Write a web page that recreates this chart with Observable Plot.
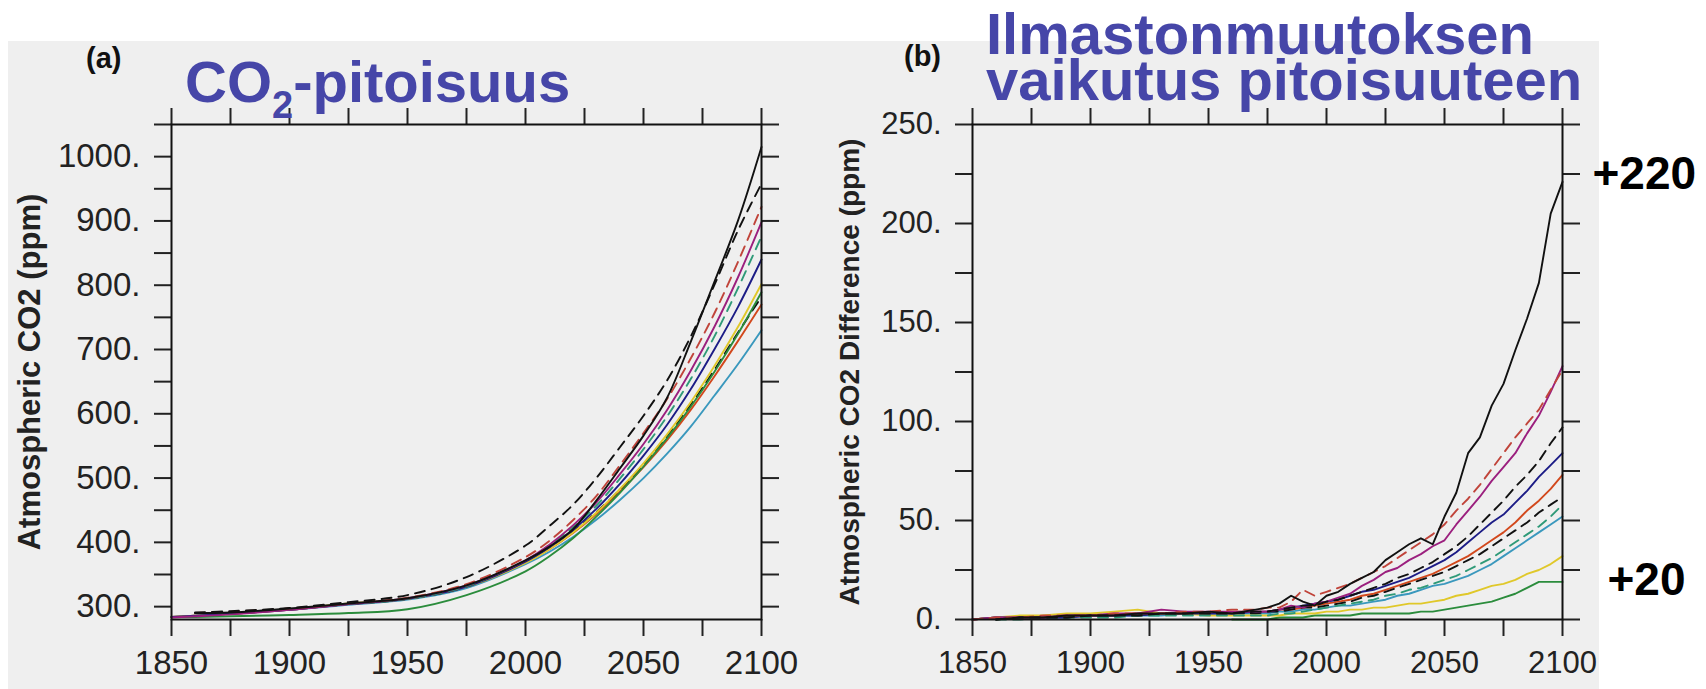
<!DOCTYPE html>
<html><head><meta charset="utf-8">
<script src="https://cdn.jsdelivr.net/npm/d3@7"></script>
<script src="https://cdn.jsdelivr.net/npm/@observablehq/plot@0.6"></script>
<style>
html,body{margin:0;padding:0;background:#fff;}
#wrap{position:relative;width:1706px;height:689px;overflow:hidden;font-family:"Liberation Sans",Arial,Helvetica,sans-serif;}
#bg{position:absolute;left:8px;top:41px;width:1591px;height:648px;background:#efefef;}
.pl{position:absolute;top:0;}
.pl svg{display:block;}
.t{position:absolute;font-weight:bold;color:#4646a8;font-size:58px;line-height:46px;white-space:nowrap;}
.p{position:absolute;font-weight:bold;color:#111;font-size:29px;line-height:29px;}
</style></head><body>
<div id="wrap">
  <div id="bg"></div>
  <div id="plotA" class="pl" style="left:0px"></div>
  <div id="plotB" class="pl" style="left:800px"></div>
  <div id="plotC" class="pl" style="left:800px"></div>
  <div class="p" style="left:86px;top:44px">(a)</div>
  <div class="p" style="left:904px;top:42px">(b)</div>
  <div class="t" style="left:185px;top:59px">CO<span style="font-size:38px;position:relative;top:16px">2</span>-pitoisuus</div>
  <div class="t" style="left:986px;top:5px;line-height:58px">Ilmastonmuutoksen</div>
  <div class="t" style="left:986px;top:57px">vaikutus pitoisuuteen</div>
</div>
<script>
// ---------- Panel (a): atmospheric CO2 (ppm) ----------
const yearsA = [1850,1860,1875,1900,1925,1950,1975,2000,2010,2020,2030,2040,2050,2060,2070,2080,2090,2100];
const concA_m1  = [null,290,291,297,305,313,333,372,393,420,465,515,566,625,712,805,900,1015];
const concA_m2  = [null,291,293,298,307,318,346,395,425,458,500,548,597,652,720,800,885,958];
const concA_m3  = [null,290,292,297,305,314,335,377,402,434,472,520,570,623,686,756,836,922];
const concA_m4  = [283,285,288,295,304,313,333,372,396,426,462,506,553,606,667,735,812,898];
const concA_m5  = [null,290,291,296,304,312,332,372,395,423,457,499,545,596,654,720,795,876];
const concA_m6  = [284,286,289,295,304,312,331,370,392,419,452,491,535,583,638,700,766,840];
const concA_m7  = [284,286,289,296,305,312,331,368,389,415,446,483,523,568,618,674,735,802];
const concA_m8  = [284,284,285,287,290,296,318,355,378,406,440,477,518,562,611,665,724,789];
const concA_m9  = [null,290,291,296,304,312,331,369,390,416,447,482,521,565,614,668,726,782];
const concA_m10 = [284,286,289,295,304,312,331,369,389,414,444,479,517,559,606,658,713,770];
const concA_m11 = [284,286,289,295,303,311,329,366,385,408,435,466,500,538,580,628,677,730];

// ---------- Panel (b): CO2 difference (ppm) ----------
const yearsB = [1850,1860,1870,1880,1890,1900,1910,1920,1930,1940,1950,1960,1970,
  1975,1980,1985,1990,1995,2000,2005,2010,2015,2020,2025,2030,2035,2040,2045,2050,2055,2060,2065,2070,2075,2080,2085,2090,2095,2100];
const diffB_m1  = [null,0,1,1,2,2,2,3,3,3,4,3,5, 6,8,12,9,7,12,14,18,21,24,30,34,38,41,38,52,64,84,92,108,119,136,152,170,205,221];
const diffB_m2  = [null,0,1,1,1,2,2,2,3,3,3,3,4, 4,5,6,7,7,9,10,12,14,16,18,21,23,26,29,33,37,42,48,54,60,67,73,80,89,97];
const diffB_m3  = [0,1,1,2,2,2,3,3,3,4,4,5,5, 6,6,9,15,12,14,16,18,21,24,27,31,35,39,43,48,55,61,68,76,84,92,99,106,116,126];
const diffB_m4  = [0,1,1,1,2,2,3,3,5,4,4,4,4, 4,5,7,6,8,9,11,13,17,20,24,26,30,33,37,40,48,55,62,70,77,84,94,103,115,128];
const diffB_m5  = [null,0,0,1,1,1,1,2,2,2,2,2,2, 2,3,3,4,5,6,7,8,9,10,12,13,15,16,18,20,22,25,28,31,35,39,43,47,52,58];
const diffB_m6  = [0,1,1,1,1,2,2,2,3,3,3,3,4, 4,5,6,7,8,9,10,12,14,15,17,19,21,24,27,30,34,39,44,49,53,59,65,72,78,84];
const diffB_m7  = [0,1,2,2,3,3,4,5,3,3,2,2,2, 2,2,3,3,3,4,4,5,5,6,6,7,8,8,9,10,12,13,15,17,18,20,23,25,28,32];
const diffB_m8  = [null,null,null,null,null,null,null,null,null,null,null,0,0, 0,1,1,1,2,2,2,2,3,3,3,3,3,4,4,5,6,7,8,9,11,13,16,19,19,19];
const diffB_m9  = [null,0,1,1,1,2,2,2,3,3,3,3,3, 4,4,5,6,6,7,8,9,11,12,14,16,18,20,22,24,27,30,33,37,41,45,49,54,58,62];
const diffB_m10 = [0,1,1,1,2,2,2,3,3,3,3,4,4, 4,5,5,6,7,8,9,10,12,13,15,17,19,21,23,26,29,32,36,40,44,49,55,60,66,73];
const diffB_m11 = [0,1,1,1,1,2,2,2,2,3,3,3,3, 3,4,4,5,5,6,7,7,8,9,10,12,13,15,17,18,20,22,25,28,32,36,40,44,48,52];

// ---------- axes ----------
const xTicks = [1850,1875,1900,1925,1950,1975,2000,2025,2050,2075,2100];
const yTicksA = [300,350,400,450,500,550,600,650,700,750,800,850,900,950,1000,1050];
const yTicksB = [0,25,50,75,100,125,150,175,200,225,250];
const titleA = "Atmospheric CO2 (ppm)";
const titleB = "Atmospheric CO2 Difference (ppm)";
const annoValues = [220, 20];
const annoLabels = ["+220", "+20"];

// ---------- series styles ----------
const seriesKeys = ["m1","m2","m3","m4","m5","m6","m7","m8","m9","m10","m11"];
const seriesColors = ["#111111","#111111","#c0443a","#9b1f7e","#2f9a78","#1c1c86","#e0c82a","#2b8c3c","#111111","#d2481c","#3a98bd"];
const seriesDash = [null,"10,7","10,7",null,"10,7",null,null,null,"10,7",null,null];

const concA = [concA_m1,concA_m2,concA_m3,concA_m4,concA_m5,concA_m6,concA_m7,concA_m8,concA_m9,concA_m10,concA_m11];
const diffB = [diffB_m1,diffB_m2,diffB_m3,diffB_m4,diffB_m5,diffB_m6,diffB_m7,diffB_m8,diffB_m9,diffB_m10,diffB_m11];

function rows(years, vals, key) {
  return years.map((y, i) => ({year: y, value: vals[i], model: key})).filter(d => d.value != null);
}

const font = '"Liberation Sans", Arial, Helvetica, sans-serif';

function lineMarks(arrs, years, curve) {
  const marks = [];
  for (let i = arrs.length - 1; i >= 0; i--) {
    const o = {x: "year", y: "value", stroke: seriesColors[i], strokeWidth: 1.9, curve};
    if (seriesDash[i]) o.strokeDasharray = seriesDash[i];
    marks.push(Plot.line(rows(years, arrs[i], seriesKeys[i]), o));
  }
  return marks;
}

function axes(yTicks, yFmt, fs) {
  return [
    Plot.axisY({ticks: yTicks, anchor: "left", tickSize: 17, tickPadding: 14, tickFormat: yFmt, fontSize: fs, strokeWidth: 2, label: null}),
    Plot.axisY({ticks: yTicks, anchor: "right", tickSize: 17, tickFormat: () => "", strokeWidth: 2, label: null}),
    Plot.axisX({ticks: xTicks, anchor: "bottom", tickSize: 17, tickPadding: 14, tickFormat: d => d % 50 === 0 ? String(d) : "", fontSize: fs, strokeWidth: 2, label: null}),
    Plot.axisX({ticks: xTicks, anchor: "top", tickSize: 17, tickFormat: () => "", strokeWidth: 2, label: null}),
    Plot.frame({stroke: "#111", strokeWidth: 2})
  ];
}

const plotA = Plot.plot({
  width: 800, height: 689,
  marginLeft: 171, marginRight: 39, marginTop: 124, marginBottom: 70,
  x: {domain: [1850, 2100]},
  y: {domain: [280, 1050]},
  style: {background: "transparent", fontFamily: font, color: "#222", overflow: "visible"},
  marks: [
    ...lineMarks(concA, yearsA, "catmull-rom"),
    ...axes(yTicksA, d => d % 100 === 0 ? d + "." : "", 33),
    Plot.text([titleA], {text: d => d, frameAnchor: "left", textAnchor: "middle", lineAnchor: "middle", rotate: -90, dx: -141, fontSize: 31, fontWeight: "bold", fill: "#222"})
  ]
});
document.getElementById("plotA").appendChild(plotA);

const plotB = Plot.plot({
  width: 802, height: 689,
  marginLeft: 172, marginRight: 40, marginTop: 124, marginBottom: 70,
  x: {domain: [1850, 2100]},
  y: {domain: [0, 250]},
  style: {background: "transparent", fontFamily: font, color: "#222", overflow: "visible"},
  marks: [
    ...lineMarks(diffB, yearsB, "linear"),
    ...axes(yTicksB, d => d % 50 === 0 ? d + "." : "", 31),
    Plot.text([titleB], {text: d => d, frameAnchor: "left", textAnchor: "middle", lineAnchor: "middle", rotate: -90, dx: -122, fontSize: 28, fontWeight: "bold", fill: "#222"})
  ]
});
document.getElementById("plotB").appendChild(plotB);

const annoRows = annoValues.map((v, i) => ({year: 2100, value: v, label: annoLabels[i]}));
const plotC = Plot.plot({
  width: 906, height: 689,
  marginLeft: 172, marginRight: 144, marginTop: 124, marginBottom: 70,
  x: {domain: [1850, 2100], axis: null},
  y: {domain: [0, 250], axis: null},
  style: {background: "transparent", fontFamily: font, overflow: "visible"},
  marks: [
    Plot.text(annoRows.slice(0, 1), {x: "year", y: "value", text: "label", textAnchor: "start", dx: 30, dy: -10, fontSize: 46, fontWeight: "bold", fill: "#000"}),
    Plot.text(annoRows.slice(1, 2), {x: "year", y: "value", text: "label", textAnchor: "start", dx: 45, dy: 0, fontSize: 46, fontWeight: "bold", fill: "#000"})
  ]
});
document.getElementById("plotC").appendChild(plotC);
</script>
</body></html>
